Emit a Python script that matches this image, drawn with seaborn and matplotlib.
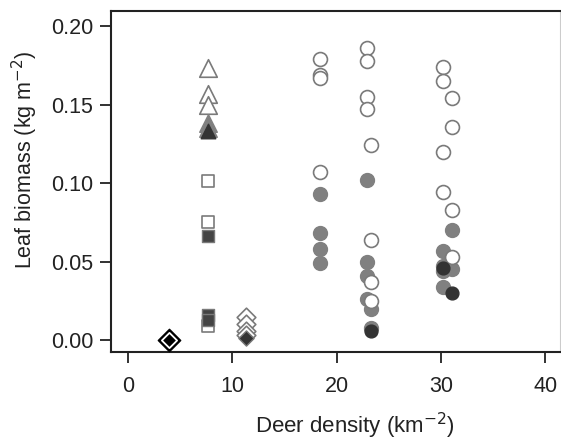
import pandas as pd
import matplotlib
matplotlib.use("Agg")
import matplotlib.pyplot as plt
import seaborn as sns

# reference site (single point)
ref_x = [3.9]
ref_y = [0.0]

# triangles
tri_open_x = [7.7, 7.7, 7.7]
tri_open_y = [0.173, 0.157, 0.150]
tri_gray_x = [7.7, 7.7]
tri_gray_y = [0.138, 0.135]
tri_dark_x = [7.7]
tri_dark_y = [0.133]

# squares
sq_open_x = [7.7, 7.7, 7.7]
sq_open_y = [0.101, 0.075, 0.009]
sq_dark_x = [7.7, 7.7, 7.7]
sq_dark_y = [0.066, 0.016, 0.013]

# diamonds
dia_open_x = [11.3, 11.3, 11.3, 11.3]
dia_open_y = [0.015, 0.010, 0.006, 0.003]
dia_dark_x = [11.3]
dia_dark_y = [0.001]

# circles
circ_open_x = [18.4, 18.4, 18.4, 18.4,
               22.9, 22.9, 22.9, 22.9, 23.3, 23.3, 23.3, 23.3,
               30.2, 30.2, 30.2, 30.2, 31.1, 31.1, 31.1, 31.1]
circ_open_y = [0.179, 0.169, 0.167, 0.107,
               0.186, 0.178, 0.155, 0.147, 0.124, 0.064, 0.037, 0.025,
               0.174, 0.165, 0.120, 0.094, 0.154, 0.136, 0.083, 0.053]
circ_gray_x = [18.4, 18.4, 18.4, 18.4,
               22.9, 22.9, 22.9, 22.9, 23.3, 23.3,
               30.2, 30.2, 30.2, 30.2, 31.1, 31.1]
circ_gray_y = [0.093, 0.068, 0.058, 0.049,
               0.102, 0.050, 0.041, 0.026, 0.020, 0.008,
               0.057, 0.047, 0.044, 0.034, 0.070, 0.045]
circ_dark_x = [23.3, 30.2, 31.1]
circ_dark_y = [0.006, 0.046, 0.030]

x_ticks = [0, 10, 20, 30, 40]
y_ticks = [0.00, 0.05, 0.10, 0.15, 0.20]

OPEN_EDGE = "#7a7a7a"
GRAY = "#808080"
DARK = "#333333"

sns.set_style("ticks")
plt.rcParams["font.family"] = ["Liberation Sans", "DejaVu Sans"]

fig = plt.figure(figsize=(5.61, 4.40), dpi=100)
ax = fig.add_axes([0.198, 0.2, 0.80, 0.775])


def pts(x, y, marker, size, face, edge, lw):
    df = pd.DataFrame({"x": x, "y": y})
    sns.scatterplot(data=df, x="x", y="y", marker=marker, s=size,
                    color=face, edgecolor=edge, linewidth=lw, ax=ax,
                    legend=False, zorder=3)


# circles
pts(circ_gray_x, circ_gray_y, "o", 100, GRAY, GRAY, 1.0)
pts(circ_open_x, circ_open_y, "o", 100, "white", OPEN_EDGE, 1.2)
pts(circ_dark_x, circ_dark_y, "o", 85, DARK, DARK, 1.0)

# triangles
pts(tri_open_x, tri_open_y, "^", 160, "white", OPEN_EDGE, 1.2)
pts(tri_gray_x, tri_gray_y, "^", 160, GRAY, GRAY, 1.0)
pts(tri_dark_x, tri_dark_y, "^", 110, DARK, DARK, 1.0)

# squares
pts(sq_open_x, sq_open_y, "s", 80, "white", OPEN_EDGE, 1.2)
pts(sq_dark_x, sq_dark_y, "s", 80, "#444444", OPEN_EDGE, 1.0)

# diamonds
pts(dia_open_x, dia_open_y, "D", 90, "white", OPEN_EDGE, 1.2)
pts(dia_dark_x, dia_dark_y, "D", 60, DARK, OPEN_EDGE, 1.0)

# reference point: black diamond with white and black rims
pts(ref_x, ref_y, "D", 130, "black", "black", 1.0)
pts(ref_x, ref_y, "D", 60, "black", "white", 1.3)

ax.set_xlim(-1.63, 41.4)
ax.set_ylim(-0.0076, 0.2096)
ax.set_xticks(x_ticks)
ax.set_yticks(y_ticks)
ax.set_yticklabels([f"{v:.2f}" for v in y_ticks])

ax.tick_params(axis="both", labelsize=15.5, length=8, width=1.3,
               color="#222222", labelcolor="#222222")
ax.tick_params(axis="x", pad=9)
ax.tick_params(axis="y", pad=5)

for side in ["left", "bottom", "top"]:
    ax.spines[side].set_linewidth(1.5)
    ax.spines[side].set_color("#222222")
ax.spines["right"].set_linewidth(0.8)
ax.spines["right"].set_color("#cccccc")

ax.set_xlabel("Deer density (km$^{-2}$)", fontsize=16, color="#222222")
ax.set_ylabel("Leaf biomass (kg m$^{-2}$)", fontsize=15.5, color="#222222")
ax.xaxis.set_label_coords(0.543, -0.171)
ax.yaxis.set_label_coords(-0.158, 0.563)

fig.savefig("out.png", dpi=100)
